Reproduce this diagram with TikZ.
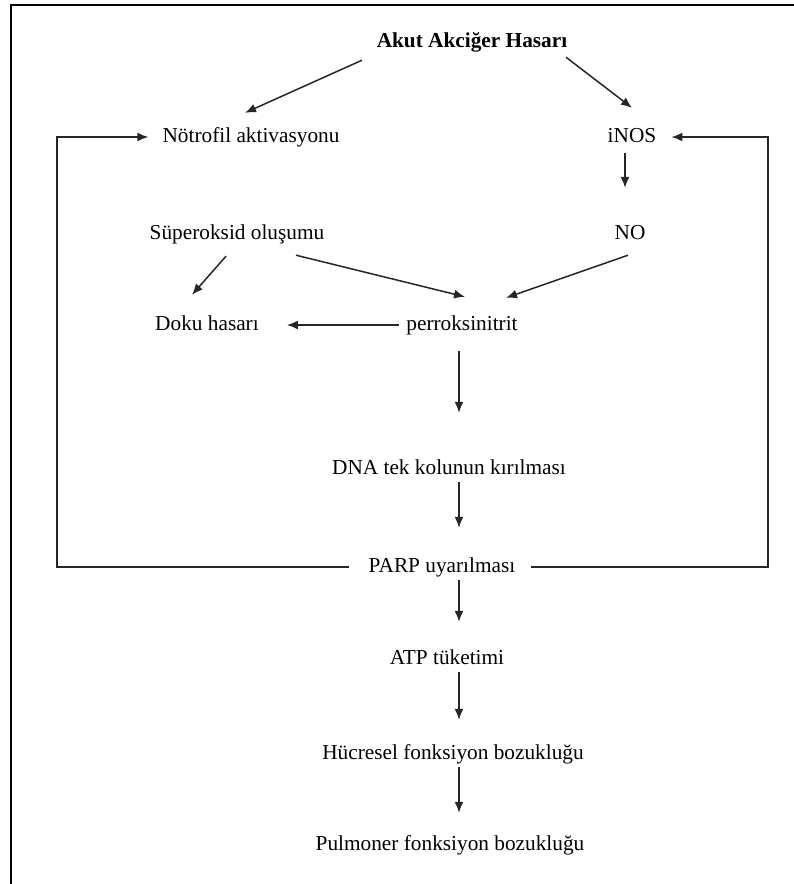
\documentclass[tikz,border=0pt]{standalone}
\usepackage{fontspec}
\setmainfont{Liberation Serif}
\usetikzlibrary{arrows.meta}

\begin{document}
\begin{tikzpicture}[x = 1pt, y = -1pt,
    lbl/.style = {inner sep = 3pt, text height = 15pt, text depth = 5pt,
        font = \fontsize{21.3}{25}\selectfont},
    arr/.style = {-{Latex[length = 11pt, width = 9pt]}, line width = 1.5pt, black!85},
    loopline/.style = {arr, line width = 1.7pt}]
    %% page
    \useasboundingbox (0, 0) rectangle (794, 884);
    \draw[line width = 2.2pt] (11, 884) -- (11, 5) -- (794, 5);

    %% guides
    \coordinate (spine) at (459, 0);
    \coordinate (lx) at (57, 0);
    \coordinate (rx) at (768, 0);

    %% nodes
    \node[lbl, font = \fontsize{21.3}{25}\selectfont\bfseries] (akut) at (472, 42) {Akut Akciğer Hasarı};
    \node[lbl] (notrofil) at (251, 137) {Nötrofil aktivasyonu};
    \node[lbl] (inos) at (632, 137) {iNOS};
    \node[lbl] (super) at (237, 234) {Süperoksid oluşumu};
    \node[lbl] (no) at (630, 234) {NO};
    \node[lbl] (doku) at (207, 325) {Doku hasarı};
    \node[lbl] (perox) at (462, 325) {perroksinitrit};
    \node[lbl] (dna) at (449, 469) {DNA tek kolunun kırılması};
    \node[lbl] (parp) at (442, 567) {PARP uyarılması};
    \node[lbl] (atp) at (447, 659) {ATP tüketimi};
    \node[lbl] (hucre) at (453, 754) {Hücresel fonksiyon bozukluğu};
    \node[lbl] (pulm) at (450, 845) {Pulmoner fonksiyon bozukluğu};

    %% upper arrows
    \draw[arr] ([shift = {(-110, 5)}]akut.south) -- ([shift = {(-6, -11)}]notrofil.north);
    \draw[arr] ([shift = {(94, 2)}]akut.south) -- ([shift = {(0, -16)}]inos.north);
    \draw[arr] ([shift = {(-7, 3)}]inos.south) -- ([shift = {(-5, -33)}]no.north);
    \draw[arr] ([shift = {(-11, 9)}]super.south) -- ([shift = {(-15, -17)}]doku.north);
    \draw[arr] ([shift = {(59, 8)}]super.south) -- ([shift = {(3, -15)}]perox.north);
    \draw[arr] ([shift = {(-2, 8)}]no.south) -- ([shift = {(44, -14)}]perox.north);
    \draw[arr, shorten <= 4pt, shorten >= 25pt] (perox.west) -- (doku.east);

    %% main chain
    \draw[arr, shorten <= 13pt, shorten >= 43pt] (perox.south -| spine) -- (dna.north -| spine);
    \draw[arr, shorten >= 26pt] (dna.south -| spine) -- (parp.north -| spine);
    \draw[arr, shorten >= 24pt] (parp.south -| spine) -- (atp.north -| spine);
    \draw[arr, shorten >= 21pt] (atp.south -| spine) -- (hucre.north -| spine);
    \draw[arr, shorten >= 19pt] (hucre.south -| spine) -- (pulm.north -| spine);

    %% feedback
    \draw[loopline, shorten <= 17pt, shorten >= 11pt] (parp.west) -- (parp.west -| lx)
        |- (notrofil.west);
    \draw[loopline, shorten <= 13pt] (parp.east) -- (parp.east -| rx)
        |- ([xshift = 12pt]inos.east);
\end{tikzpicture}
\end{document}
